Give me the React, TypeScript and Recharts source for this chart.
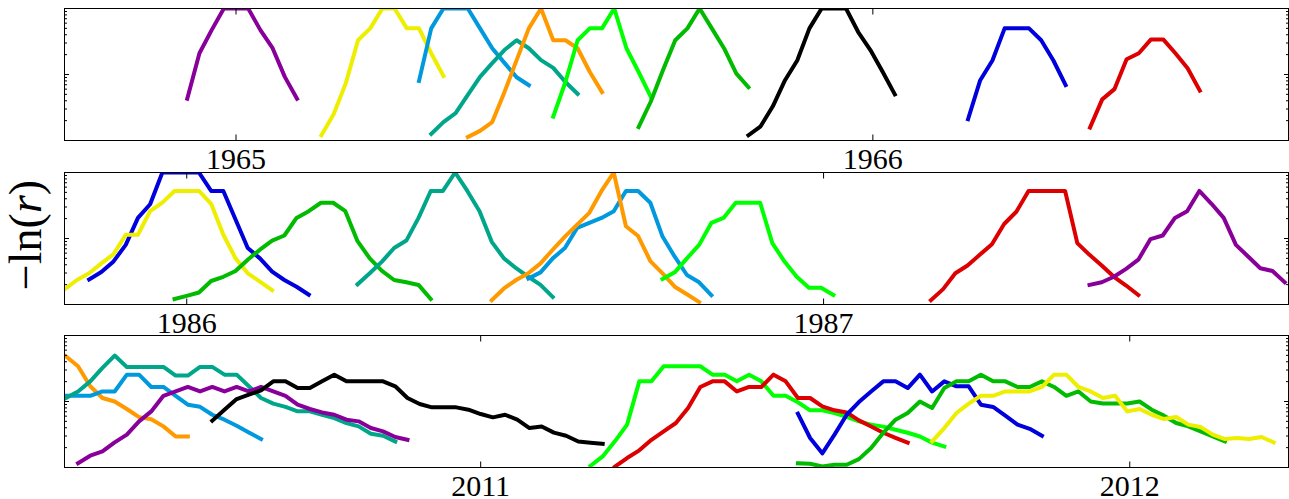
import { LineChart, Line, XAxis, YAxis } from 'recharts';

type Series = { key: string; start: number; values: number[] };

// x is in weeks counted from the first labelled year of each panel, one value per week
const panel1: Series[] = [
  { key: 'purple', start: -4, values: [0.043, 0.21, 0.47, 1, 1, 1, 0.47, 0.25, 0.092, 0.043] },
  { key: 'yellow', start: 7, values: [0.012, 0.025, 0.074, 0.33, 0.5, 1, 1, 0.5, 0.5, 0.21, 0.095] },
  { key: 'sky', start: 15, values: [0.08, 0.5, 1, 1, 1, 0.5, 0.25, 0.15, 0.091, 0.069] },
  { key: 'teal', start: 16, values: [0.0126, 0.019, 0.026, 0.049, 0.092, 0.149, 0.235, 0.33, 0.25, 0.165, 0.126, 0.077, 0.051] },
  { key: 'orange', start: 19, values: [0.0113, 0.014, 0.019, 0.054, 0.165, 0.5, 1, 0.33, 0.33, 0.25, 0.109, 0.054] },
  { key: 'lime', start: 26, values: [0.023, 0.077, 0.33, 0.5, 0.5, 1, 0.25, 0.109, 0.046] },
  { key: 'green', start: 33, values: [0.016, 0.039, 0.117, 0.33, 0.5, 1, 0.5, 0.25, 0.104, 0.064] },
  { key: 'black', start: 42, values: [0.012, 0.0164, 0.033, 0.082, 0.163, 0.5, 1, 1, 1, 0.44, 0.235, 0.11, 0.05] },
  { key: 'blue', start: 60, values: [0.021, 0.082, 0.163, 0.5, 0.5, 0.5, 0.33, 0.163, 0.069] },
  { key: 'red', start: 70, values: [0.0157, 0.042, 0.06, 0.17, 0.21, 0.34, 0.34, 0.21, 0.124, 0.057] },
];

const panel2: Series[] = [
  { key: 'blue', start: -8, values: [0.024, 0.031, 0.045, 0.08, 0.205, 0.33, 1, 1, 1, 1, 0.525, 0.525, 0.194, 0.072, 0.05, 0.0315, 0.0235, 0.0186, 0.0141] },
  { key: 'yellow', start: -10, values: [0.0171, 0.0235, 0.0297, 0.042, 0.058, 0.114, 0.114, 0.26, 0.35, 0.525, 0.525, 0.525, 0.336, 0.114, 0.05, 0.0297, 0.0222, 0.0164] },
  { key: 'green', start: -1, values: [0.0121, 0.0135, 0.0152, 0.0227, 0.0263, 0.0322, 0.0477, 0.0676, 0.093, 0.111, 0.205, 0.259, 0.348, 0.348, 0.259, 0.091, 0.05, 0.0322, 0.0235, 0.0217, 0.0198, 0.0121] },
  { key: 'teal', start: 14, values: [0.0202, 0.0297, 0.0447, 0.0717, 0.093, 0.205, 0.525, 0.525, 1, 0.525, 0.259, 0.089, 0.05, 0.0355, 0.0263, 0.0198, 0.013] },
  { key: 'sky', start: 28, values: [0.0248, 0.0307, 0.05, 0.0717, 0.145, 0.172, 0.205, 0.259, 0.525, 0.525, 0.348, 0.107, 0.053, 0.028, 0.0217, 0.0139] },
  { key: 'orange', start: 25, values: [0.0116, 0.0175, 0.0235, 0.0297, 0.042, 0.0676, 0.107, 0.162, 0.245, 0.525, 1, 0.153, 0.109, 0.0455, 0.0297, 0.0186, 0.0143, 0.0109] },
  { key: 'lime', start: 39, values: [0.0243, 0.0307, 0.05, 0.08, 0.172, 0.205, 0.348, 0.348, 0.348, 0.085, 0.0447, 0.0263, 0.0179, 0.0179, 0.0139] },
  { key: 'red', start: 61, values: [0.0116, 0.0171, 0.0297, 0.039, 0.0565, 0.082, 0.166, 0.254, 0.525, 0.525, 0.525, 0.525, 0.085, 0.0565, 0.039, 0.0263, 0.0194, 0.0139] },
  { key: 'purple', start: 74, values: [0.0198, 0.0217, 0.0263, 0.0346, 0.0477, 0.098, 0.111, 0.205, 0.259, 0.525, 0.336, 0.205, 0.08, 0.0534, 0.0355, 0.0322, 0.0217] },
];

const panel3: Series[] = [
  { key: 'orange', start: -34, values: [0.485, 0.342, 0.17, 0.113, 0.1, 0.077, 0.058, 0.054, 0.042, 0.0295, 0.0295] },
  { key: 'sky', start: -34, values: [0.122, 0.122, 0.122, 0.142, 0.142, 0.255, 0.255, 0.166, 0.166, 0.122, 0.0895, 0.083, 0.063, 0.053, 0.043, 0.034, 0.027] },
  { key: 'teal', start: -34, values: [0.113, 0.142, 0.202, 0.323, 0.497, 0.334, 0.334, 0.334, 0.334, 0.247, 0.247, 0.334, 0.334, 0.255, 0.255, 0.17, 0.113, 0.093, 0.083, 0.071, 0.071, 0.063, 0.056, 0.047, 0.042, 0.0325, 0.0303, 0.0248] },
  { key: 'purple', start: -33, values: [0.0116, 0.0151, 0.0175, 0.024, 0.0315, 0.05, 0.0708, 0.122, 0.142, 0.166, 0.142, 0.166, 0.142, 0.166, 0.142, 0.166, 0.142, 0.122, 0.0895, 0.077, 0.0683, 0.063, 0.053, 0.05, 0.0396, 0.0352, 0.029, 0.0263] },
  { key: 'black', start: -22, values: [0.0513, 0.0752, 0.109, 0.127, 0.148, 0.202, 0.202, 0.16, 0.16, 0.202, 0.255, 0.202, 0.202, 0.202, 0.202, 0.17, 0.113, 0.0917, 0.0815, 0.0815, 0.0815, 0.0752, 0.0646, 0.0575, 0.063, 0.053, 0.0396, 0.0419, 0.0338, 0.0303, 0.0248, 0.0238, 0.0229] },
  { key: 'lime', start: 9, values: [0.0106, 0.0147, 0.0249, 0.0446, 0.202, 0.202, 0.342, 0.342, 0.342, 0.342, 0.255, 0.255, 0.202, 0.255, 0.202, 0.122, 0.122, 0.0974, 0.0735, 0.0735, 0.067, 0.0583, 0.05, 0.0446, 0.0416, 0.0374, 0.0336, 0.0295, 0.0238, 0.0208] },
  { key: 'red', start: 11, values: [0.0103, 0.0139, 0.0182, 0.0263, 0.0352, 0.0472, 0.0798, 0.166, 0.202, 0.202, 0.142, 0.166, 0.166, 0.255, 0.202, 0.113, 0.113, 0.0843, 0.0735, 0.0683, 0.0517, 0.0419, 0.0336, 0.0282, 0.0238] },
  { key: 'blue', start: 26, values: [0.0655, 0.028, 0.0164, 0.0315, 0.063, 0.098, 0.142, 0.202, 0.202, 0.16, 0.255, 0.142, 0.202, 0.17, 0.17, 0.0895, 0.0826, 0.061, 0.0446, 0.0385, 0.0303] },
  { key: 'green', start: 26, values: [0.0116, 0.0114, 0.0104, 0.011, 0.011, 0.0134, 0.0198, 0.0336, 0.053, 0.067, 0.1, 0.0798, 0.16, 0.202, 0.202, 0.255, 0.202, 0.202, 0.166, 0.166, 0.202, 0.166, 0.122, 0.142, 0.1, 0.093, 0.093, 0.093, 0.1, 0.0752, 0.061, 0.0472, 0.0419, 0.0352, 0.0295, 0.0248] },
  { key: 'yellow', start: 37, values: [0.0248, 0.0396, 0.067, 0.0929, 0.122, 0.122, 0.142, 0.142, 0.142, 0.166, 0.255, 0.255, 0.166, 0.142, 0.113, 0.122, 0.0708, 0.077, 0.063, 0.0542, 0.0583, 0.0446, 0.0412, 0.0315, 0.027, 0.028, 0.027, 0.029, 0.024] },
];

// year ticks (week positions) and their labels
const years1 = ['1965', '1966'];
const yearWeeks1 = [0, 52.2];
const years2 = ['1986', '1987'];
const yearWeeks2 = [0, 52.2];
const years3 = ['2011', '2012'];
const yearWeeks3 = [0, 53.2];

// visible x range of each panel, in weeks
const range1: [number, number] = [-14.06, 86.27];
const range2: [number, number] = [-10.02, 90.31];
const range3: [number, number] = [-34.11, 66.21];

const logTicks = [0.01, 0.02, 0.03, 0.04, 0.05, 0.06, 0.07, 0.08, 0.09, 0.1, 0.2, 0.3, 0.4, 0.5, 0.6, 0.7, 0.8, 0.9, 1];

const COLORS: Record<string, string> = {
  purple: '#880099',
  blue: '#0000dd',
  sky: '#0099dd',
  teal: '#00a68a',
  green: '#00bb00',
  lime: '#00ff00',
  yellow: '#eeee00',
  orange: '#ff9900',
  red: '#dd0000',
  black: '#000000',
};

const PLOT_LEFT = 64.5;
const PLOT_W = 1224;
const PLOT_H = 132;
const CHART_H = 175;
const AXIS = 1; // axes need a non-zero size to be drawn
const FONT = "'Liberation Serif', 'Times New Roman', serif";

const XTick = (props: any) => {
  const { x, y, payload, labels, at } = props;
  const i = at.indexOf(payload.value);
  return (
    <g>
      <line x1={x} x2={x} y1={y} y2={y - 6} stroke="#000" />
      <line x1={x} x2={x} y1={y - PLOT_H} y2={y - PLOT_H + 6} stroke="#000" />
      <text x={x} y={y + 28.5} textAnchor="middle" fontFamily={FONT} fontSize={30} fill="#000">
        {labels[i]}
      </text>
    </g>
  );
};

const YTick = (props: any) => {
  const { x, y, payload } = props;
  const lg = Math.log10(payload.value);
  const major = Math.abs(lg - Math.round(lg)) < 1e-6;
  const len = major ? 4.5 : 2.5;
  return (
    <g>
      <line x1={x} x2={x + len} y1={y} y2={y} stroke="#000" />
      <line x1={x + PLOT_W} x2={x + PLOT_W - len} y1={y} y2={y} stroke="#000" />
    </g>
  );
};

function Panel({ series, range, at, labels, top }: { series: Series[]; range: [number, number]; at: number[]; labels: string[]; top: number }) {
  return (
    <div style={{ position: 'absolute', left: 0, top: top - 8.5 }}>
      <LineChart
        width={1289}
        height={CHART_H}
        margin={{
          top: 8.5,
          right: 1289 - PLOT_LEFT - PLOT_W,
          bottom: CHART_H - 8.5 - PLOT_H - AXIS,
          left: PLOT_LEFT - AXIS,
        }}
      >
        <XAxis
          type="number"
          dataKey="x"
          domain={range}
          allowDataOverflow
          ticks={at}
          interval={0}
          height={AXIS}
          tickSize={0}
          tickMargin={0}
          axisLine={false}
          tickLine={false}
          tick={(p: any) => <XTick {...p} labels={labels} at={at} />}
        />
        <YAxis
          type="number"
          scale="log"
          domain={[0.01, 1]}
          allowDataOverflow
          ticks={logTicks}
          interval={0}
          width={AXIS}
          tickSize={0}
          tickMargin={0}
          axisLine={false}
          tickLine={false}
          tick={(p: any) => <YTick {...p} />}
        />
        {series.map((s) => (
          <Line
            key={s.key}
            data={s.values.map((v, i) => ({ x: s.start + i, v }))}
            dataKey="v"
            type="linear"
            stroke={COLORS[s.key]}
            strokeWidth={4}
            strokeLinejoin="round"
            strokeLinecap="square"
            dot={false}
            activeDot={false}
            isAnimationActive={false}
          />
        ))}
      </LineChart>
      <div
        style={{
          position: 'absolute',
          left: PLOT_LEFT - 0.5,
          top: 8,
          width: PLOT_W + 1,
          height: PLOT_H + 1,
          border: '1px solid #000',
          boxSizing: 'border-box',
          pointerEvents: 'none',
        }}
      />
    </div>
  );
}

export default function App() {
  return (
    <div style={{ position: 'absolute', left: 0, top: 0, width: 1289, height: 499, background: '#fff', overflow: 'hidden' }}>
      <Panel series={panel1} range={range1} at={yearWeeks1} labels={years1} top={8.5} />
      <Panel series={panel2} range={range2} at={yearWeeks2} labels={years2} top={172.5} />
      <Panel series={panel3} range={range3} at={yearWeeks3} labels={years3} top={335.5} />
      <svg width={70} height={499} style={{ position: 'absolute', left: 0, top: 0 }}>
        <text
          x={0}
          y={0}
          transform="translate(41,235) rotate(-90)"
          textAnchor="middle"
          fontFamily={FONT}
          fontSize={46}
          fill="#000"
        >
          −ln(<tspan fontStyle="italic">r</tspan>)
        </text>
      </svg>
    </div>
  );
}
